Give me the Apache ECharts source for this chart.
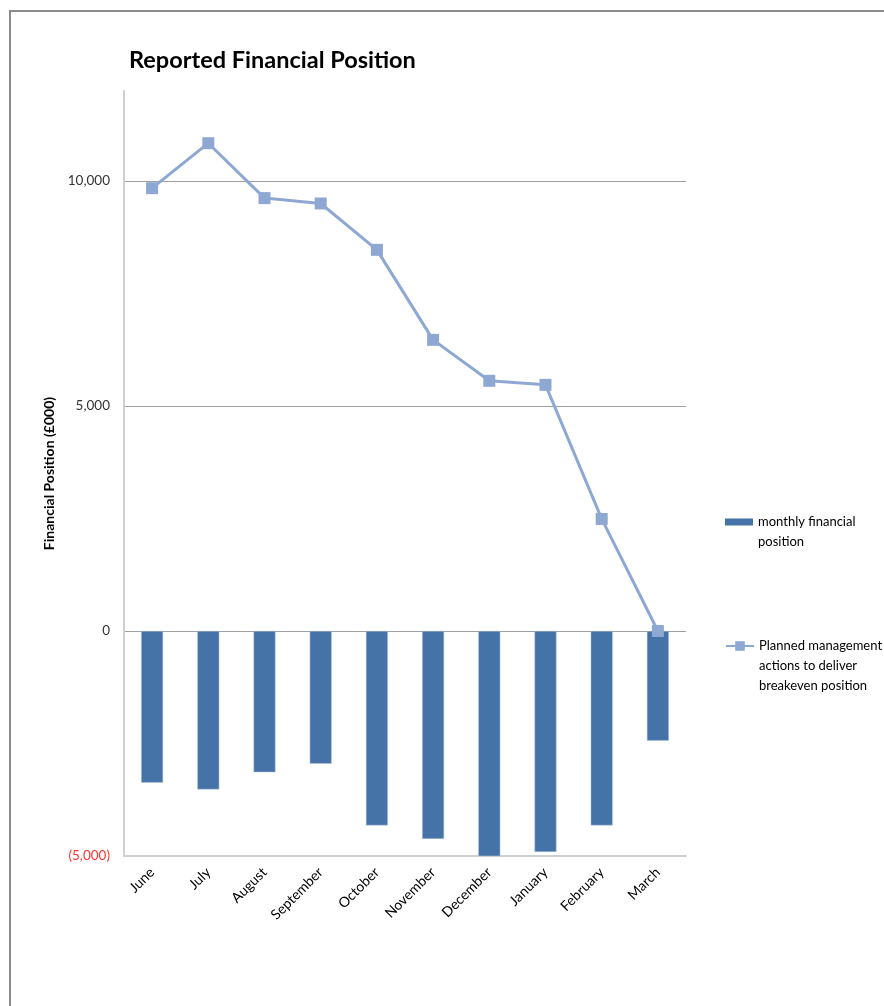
<!DOCTYPE html>
<html>
<head>
<meta charset="utf-8">
<script src="https://cdn.jsdelivr.net/npm/echarts@6/dist/echarts.min.js"></script>
<style>
  html, body { margin: 0; padding: 0; background: #fff; }
  #frame { position: absolute; left: 9px; top: 10px; width: 875px; height: 996px;
           border-left: 2px solid #8c8c8c; border-top: 2px solid #8c8c8c; box-sizing: border-box; }
  #chart { position: absolute; left: 0; top: 0; width: 884px; height: 1006px; }
</style>
</head>
<body>
<div id="frame"></div>
<div id="chart"></div>
<script>
// Months of the financial year shown on the category axis
const months = ['June', 'July', 'August', 'September', 'October', 'November',
                'December', 'January', 'February', 'March'];

// Monthly financial position (£000)
const monthlyPosition = [-3370, -3520, -3140, -2950, -4320, -4620, -5040, -4910, -4320, -2440];

// Planned management actions to deliver breakeven position (£000)
const plannedActions = [9840, 10840, 9620, 9500, 8470, 6470, 5560, 5470, 2490, 0];

const barName = 'monthly financial\nposition';
const lineName = 'Planned management\nactions to deliver\nbreakeven position';

const FONT = 'Lato, "Open Sans", sans-serif';

function fmt(v) {
  const s = Math.abs(v).toLocaleString('en-GB');
  return v < 0 ? '(' + s + ')' : s;
}

// Legend entries keep their icon level with the first text line:
// leading blank lines balance the lines that follow it.
function firstLineAligned(name) {
  const n = name.split('\n').length;
  return '\n'.repeat(n - 1) + name;
}

const chart = echarts.init(document.getElementById('chart'));
chart.setOption({
  animation: false,
  backgroundColor: 'transparent',
  title: {
    text: 'Reported Financial Position',
    left: 124, top: 43,
    textStyle: { fontFamily: FONT, fontWeight: 'bold', fontSize: 23.5, color: '#000' }
  },
  legend: [
    {
      data: [{ name: barName, icon: 'rect', itemStyle: { borderWidth: 0 } }],
      formatter: firstLineAligned,
      orient: 'vertical', left: 720, top: 487,
      itemWidth: 28, itemHeight: 7, itemGap: 4,
      textStyle: { fontFamily: FONT, fontSize: 13, color: '#000', lineHeight: 20 }
    },
    {
      data: [{ name: lineName }],
      formatter: firstLineAligned,
      orient: 'vertical', left: 720, top: 591,
      itemWidth: 28, itemHeight: 12, itemGap: 4,
      textStyle: { fontFamily: FONT, fontSize: 13, color: '#000', lineHeight: 20 }
    }
  ],
  grid: { left: 124, top: 91, right: 198, bottom: 150 },
  xAxis: {
    type: 'category',
    data: months,
    axisLine: { onZero: false, lineStyle: { color: '#cfcfcf', width: 2 } },
    axisTick: { show: false },
    axisLabel: { rotate: 45, margin: 14, fontFamily: FONT, fontSize: 14, color: '#000' },
    splitLine: { show: false }
  },
  yAxis: {
    type: 'value',
    min: -5000, max: 12000, interval: 5000,
    name: 'Financial Position (£000)',
    nameLocation: 'middle', nameGap: 53, nameRotate: 90,
    nameTextStyle: { fontFamily: FONT, fontWeight: 'bold', fontSize: 14, color: '#000' },
    axisLine: { show: true, lineStyle: { color: '#cfcfcf', width: 2 } },
    axisTick: { show: false },
    axisLabel: {
      showMaxLabel: false,
      margin: 14,
      fontFamily: FONT, fontSize: 13.5,
      formatter: fmt,
      color: function (v) { return v < 0 ? '#ff3333' : '#333'; }
    },
    splitLine: { show: true, showMinLine: false, showMaxLine: false,
                 lineStyle: { color: '#a0a0a0', width: 1 } }
  },
  series: [
    {
      name: barName,
      type: 'bar',
      data: monthlyPosition,
      barWidth: 22,
      itemStyle: { color: '#4573a7', borderColor: '#b9c9de', borderWidth: 0.5 }
    },
    {
      name: lineName,
      type: 'line',
      data: plannedActions,
      symbol: 'rect',
      symbolSize: 12,
      lineStyle: { color: '#8ea8d4', width: 3 },
      itemStyle: { color: '#8ea8d4' },
      z: 3
    }
  ]
});
</script>
</body>
</html>
